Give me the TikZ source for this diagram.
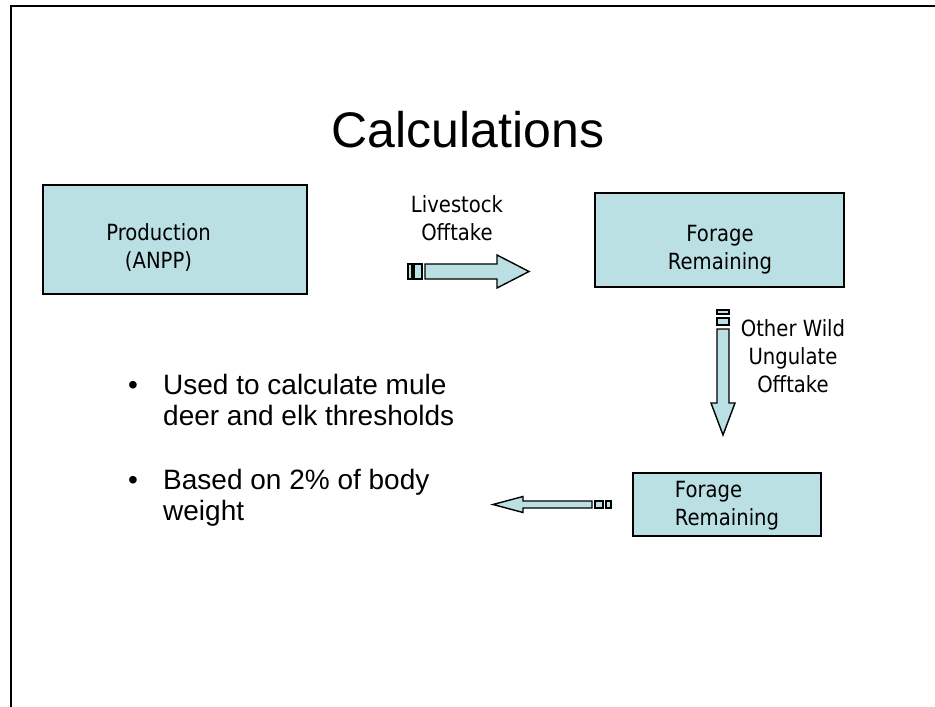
\documentclass[tikz,border=0pt]{standalone}
\usepackage{fontspec}
\setmainfont{Liberation Sans}
\newfontfamily\tah{DejaVu Sans}[FakeStretch=0.88]
\definecolor{boxfill}{RGB}{187,224,227}
\begin{document}
\begin{tikzpicture}[x=1pt,y=-1pt,
  blk/.style={draw=black,line width=2pt,fill=boxfill,rectangle,inner sep=0pt},
  arr/.style={draw=black,line width=1.4pt,fill=boxfill,line join=miter},
  lbl/.style={font=\tah\fontsize{22.3}{28}\selectfont,align=center,inner sep=0pt},
  bul/.style={font=\fontsize{28}{34}\selectfont,anchor=base west,inner sep=0pt}]
\useasboundingbox (0,0) rectangle (935,707);
\fill[white] (0,0) rectangle (935,707);
% slide frame
\draw[line width=2.5pt] (11,707) -- (11,6) -- (935,6);
% title
\node[font=\fontsize{50}{60}\selectfont,inner sep=0pt] (title) at (468,130) {Calculations};
% boxes
\node[blk,minimum width=264pt,minimum height=109pt] (prod) at (175,239.5) {};
\node[lbl] (prodt) at (158.5,247) {Production\\(ANPP)};
\node[blk,minimum width=249pt,minimum height=94pt] (fr1) at (719.5,240) {};
\node[lbl] (fr1t) at (720,250) {Forage\\Remaining};
\node[blk,minimum width=188pt,minimum height=63pt] (fr2) at (727,504.5) {};
\node[lbl,align=left] (fr2t) at (727,506) {Forage\\Remaining};
% arrow 1: livestock offtake
\draw[arr] (408,264) rectangle (412,279);
\draw[arr] (414,264) rectangle (422,279);
\draw[arr] (425,264) -- (497,264) -- (497,255) -- (529,271.5) -- (497,288) -- (497,279) -- (425,279) -- cycle;
\node[lbl] (lo) at (457,218) {Livestock\\Offtake};
% arrow 2: other wild ungulate offtake
\draw[arr] (717,310) rectangle (729,314);
\draw[arr] (717,318) rectangle (729,325);
\draw[arr] (717,329) -- (729,329) -- (729,403) -- (735,403) -- (723,435) -- (711,403) -- (717,403) -- cycle;
\node[lbl] (wu) at (793,356) {Other Wild\\Ungulate\\Offtake};
% arrow 3: left
\draw[arr] (606,501) rectangle (611,508);
\draw[arr] (595,501) rectangle (603,508);
\draw[arr] (592,501) -- (523,501) -- (523,496.5) -- (493,504.5) -- (523,512.5) -- (523,508) -- (592,508) -- cycle;
% bullets
\node[bul] (b1) at (128,394) {•};
\node[bul] (t1) at (163,394) {Used to calculate mule};
\node[bul] (t2) at (163,425) {deer and elk thresholds};
\node[bul] (b2) at (128,489) {•};
\node[bul] (t3) at (163,489) {Based on 2\% of body};
\node[bul] (t4) at (163,520) {weight};
\end{tikzpicture}
\end{document}
